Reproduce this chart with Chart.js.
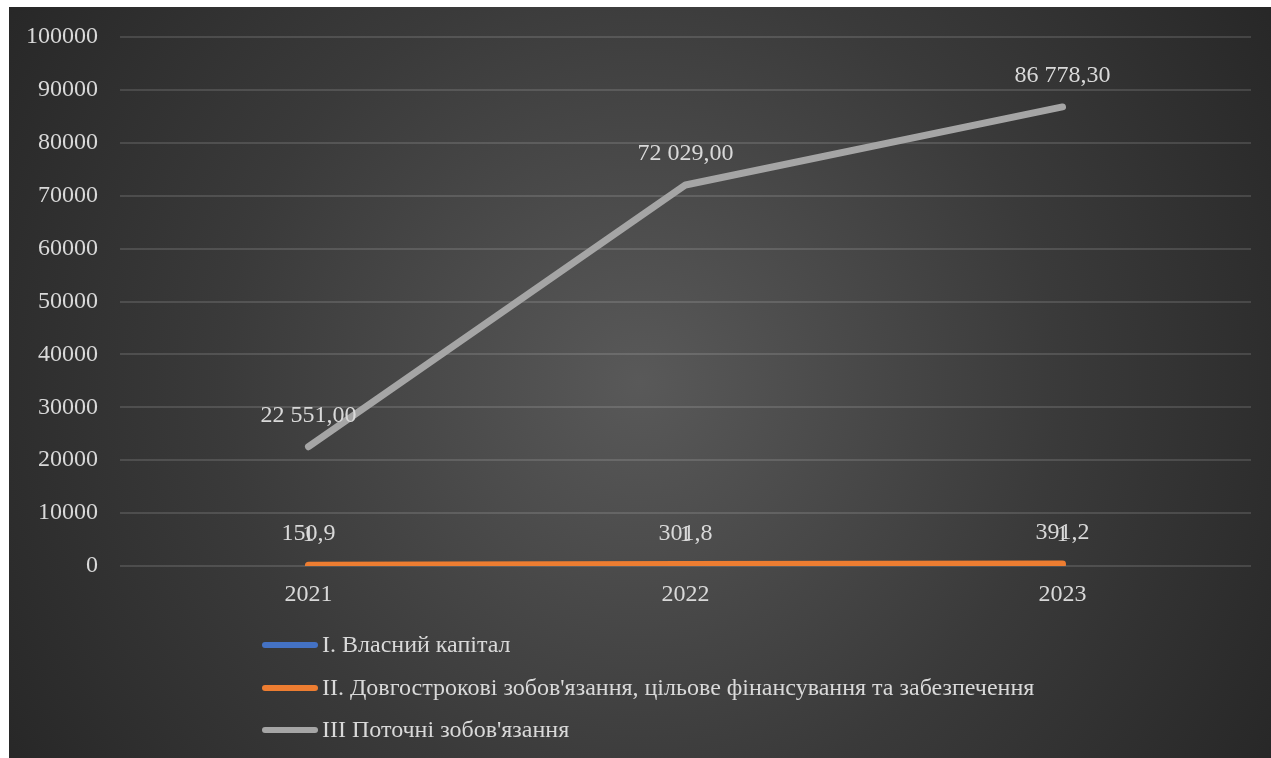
<!DOCTYPE html>
<html>
<head>
<meta charset="utf-8">
<script src="https://cdn.jsdelivr.net/npm/chart.js@4.4.1/dist/chart.umd.min.js"></script>
<style>
  html, body { margin: 0; padding: 0; background: #ffffff; }
  #wrap { position: absolute; left: 9px; top: 7px; width: 1262px; height: 751px; }
  canvas { display: block; }
</style>
</head>
<body>
<div id="wrap"><canvas id="c" width="1262" height="751"></canvas></div>
<script>
const categories = ['2021', '2022', '2023'];
const seriesNames = [
  'I. Власний капітал',
  'II. Довгострокові зобов\'язання, цільове фінансування та забезпечення',
  'III Поточні зобов\'язання'
];
const equity = [1, 1, 1];
const longTerm = [150.9, 301.8, 391.2];
const current = [22551.0, 72029.0, 86778.3];
const labelDecimals = [0, 1, 2];
const yTicks = [0, 10000, 20000, 30000, 40000, 50000, 60000, 70000, 80000, 90000, 100000];
const colors = ['#4472C4', '#ED7D31', '#A5A5A5'];

const FONT = '"Liberation Serif", "Times New Roman", "DejaVu Serif", serif';
const TEXT = '#d9d9d9';
const FS = 24;

function fmt(v, d) {
  const parts = v.toFixed(d).split('.');
  const intPart = parts[0].replace(/\B(?=(\d{3})+(?!\d))/g, ' ');
  return parts.length > 1 ? intPart + ',' + parts[1] : intPart;
}

const bgPlugin = {
  id: 'bg',
  beforeDraw(chart) {
    const ctx = chart.ctx;
    const w = chart.width, h = chart.height;
    const g = ctx.createRadialGradient(w * 0.5, h * 0.5, 0, w * 0.5, h * 0.5, 760);
    g.addColorStop(0, '#595959');
    g.addColorStop(0.55, '#3a3a3a');
    g.addColorStop(1, '#262626');
    ctx.save();
    ctx.fillStyle = g;
    ctx.fillRect(0, 0, w, h);
    ctx.restore();
  }
};

const labelPlugin = {
  id: 'dlabels',
  afterDatasetsDraw(chart) {
    const ctx = chart.ctx;
    ctx.save();
    ctx.font = FS + 'px ' + FONT;
    ctx.fillStyle = TEXT;
    ctx.textAlign = 'center';
    ctx.textBaseline = 'middle';
    chart.data.datasets.forEach((ds, i) => {
      const meta = chart.getDatasetMeta(i);
      meta.data.forEach((pt, j) => {
        ctx.fillText(fmt(ds.data[j], labelDecimals[i]), pt.x, pt.y - 31);
      });
    });
    ctx.restore();
  }
};

const legendPlugin = {
  id: 'customLegend',
  afterDraw(chart) {
    const ctx = chart.ctx;
    ctx.save();
    ctx.font = FS + 'px ' + FONT;
    ctx.textBaseline = 'middle';
    ctx.textAlign = 'left';
    const x0 = 256, x1 = 306, tx = 313;
    const ys = [638, 681, 723];
    chart.data.datasets.forEach((ds, i) => {
      ctx.strokeStyle = ds.borderColor;
      ctx.lineWidth = 6;
      ctx.lineCap = 'round';
      ctx.beginPath();
      ctx.moveTo(x0, ys[i]);
      ctx.lineTo(x1, ys[i]);
      ctx.stroke();
      ctx.fillStyle = TEXT;
      ctx.fillText(ds.label, tx, ys[i] + 1);
    });
    ctx.restore();
  }
};

const seriesData = [equity, longTerm, current];
new Chart(document.getElementById('c'), {
  type: 'line',
  data: {
    labels: categories,
    datasets: seriesData.map((d, i) => ({
      label: seriesNames[i],
      data: d,
      borderColor: colors[i],
      backgroundColor: colors[i],
      borderWidth: 7,
      borderCapStyle: 'round',
      borderJoinStyle: 'round',
      pointRadius: 0,
      tension: 0,
      order: i === 0 ? 3 : (i === 1 ? 2 : 1)
    }))
  },
  options: {
    responsive: false,
    animation: false,
    layout: { padding: { top: 30, right: 20, bottom: 142, left: 0 } },
    plugins: { legend: { display: false }, tooltip: { enabled: false } },
    scales: {
      x: {
        offset: true,
        grid: { display: false, drawTicks: false },
        border: { display: false },
        ticks: { color: TEXT, font: { family: FONT, size: FS }, padding: 14 },
        afterFit(s) { s.height = 50; s.paddingLeft = 0; s.paddingRight = 0; }
      },
      y: {
        min: 0, max: 100000,
        afterBuildTicks(s) { s.ticks = yTicks.map(v => ({ value: v })); },
        grid: { color: 'rgba(255,255,255,0.13)', lineWidth: 2, drawTicks: false },
        border: { display: false },
        ticks: { color: TEXT, font: { family: FONT, size: FS }, padding: 22,
                 callback: (v) => String(v) },
        afterFit(s) { s.width = 111; s.paddingTop = 0; s.paddingBottom = 0; }
      }
    }
  },
  plugins: [bgPlugin, labelPlugin, legendPlugin]
});
</script>
</body>
</html>
